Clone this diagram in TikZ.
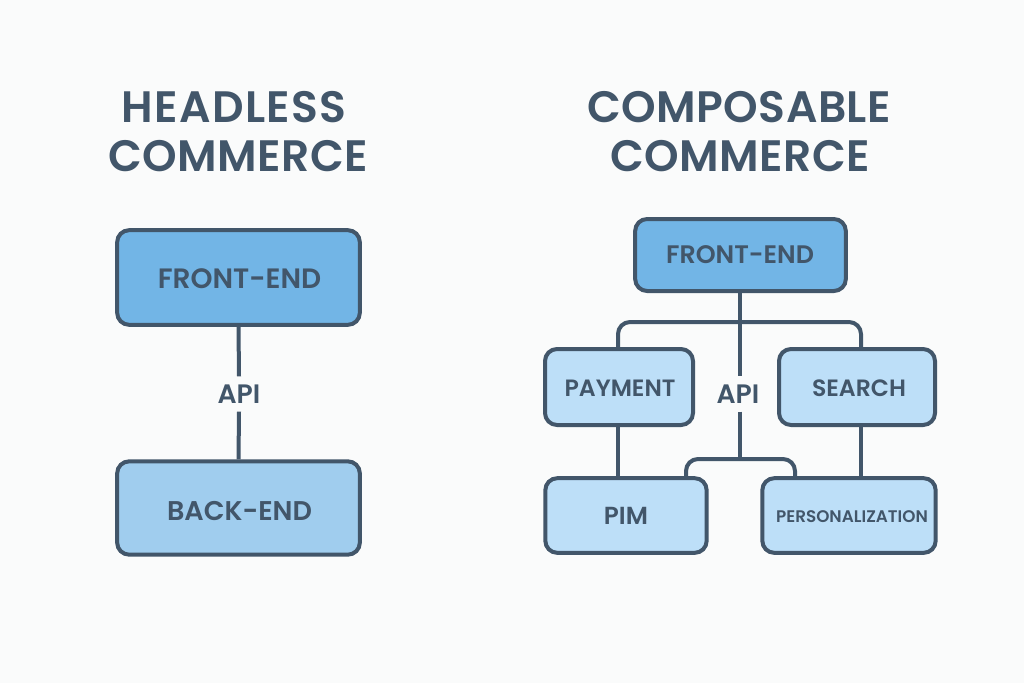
\documentclass[tikz,border=0pt]{standalone}
\usepackage{fontspec}
\setmainfont{Poppins}
\newfontfamily\titlefont[LetterSpace=1.1]{Poppins SemiBold}
\newfontfamily\titlefontw[LetterSpace=3.2]{Poppins SemiBold}
\newfontfamily\boxfontb{Poppins SemiBold}
\definecolor{ink}{HTML}{42566A}
\definecolor{paper}{HTML}{FAFBFB}
\definecolor{fillA}{HTML}{72B5E6}
\definecolor{fillB}{HTML}{A0CDEE}
\definecolor{fillC}{HTML}{BDDFF8}
\newcommand{\fs}[1]{\fontsize{#1}{#1}\selectfont}
\tikzset{
  x=0.75pt,y=-0.75pt,
  box/.style={draw=ink,line width=3pt,rounded corners=9pt,inner sep=0pt,anchor=center},
  boxtext/.style={text=ink,inner sep=0pt},
  heading/.style={text=ink,font=\titlefont\fs{33},inner sep=0pt,text height=23.5pt,text depth=0pt},
  apilabel/.style={fill=paper,text=ink,font=\boxfontb\fs{20},inner sep=0pt,minimum width=44pt,minimum height=26pt},
  link/.style={draw=ink,line width=3pt,rounded corners=9pt},
}
\begin{document}
\begin{tikzpicture}
\useasboundingbox (0,0) rectangle (1024,683);
\fill[paper] (0,0) rectangle (1024,683);

\node[heading,font=\titlefontw\fs{33}] (t1a) at (234,107) {HEADLESS};
\node[heading] (t1b) at (238,156) {COMMERCE};
\node[heading] (t2a) at (739,107) {COMPOSABLE};
\node[heading] (t2b) at (740,156) {COMMERCE};

\coordinate (busL) at (618,349);
\coordinate (busR) at (861,349);
\coordinate (lowL) at (618,425);
\coordinate (lowLb) at (618,478);
\coordinate (lowR) at (861,425);
\coordinate (lowRb) at (861,478);
\coordinate (jn) at (740,322);
\coordinate (jn2) at (740,459);
\coordinate (pimT) at (686,478);
\coordinate (perT) at (795,478);

\node[box,fill=fillA,minimum width=182pt,minimum height=71pt] (lf) at (238.5,277.5) {};
\node[box,fill=fillB,minimum width=182pt,minimum height=70pt] (lb) at (238.5,508) {};
\node[apilabel] (lapi) at (239,394) {API};
\draw[link] (lf.south) -- (lapi.north);
\draw[link] (lapi.south) -- (lb.north);

\node[box,fill=fillA,minimum width=158pt,minimum height=54pt] (rf) at (740.5,255) {};
\node[box,fill=fillC,minimum width=111pt,minimum height=57pt] (pay) at (619,387) {};
\node[box,fill=fillC,minimum width=117pt,minimum height=57pt] (sea) at (857,387) {};
\node[box,fill=fillC,minimum width=121pt,minimum height=56pt] (pim) at (626,515.5) {};
\node[box,fill=fillC,minimum width=130pt,minimum height=56pt] (per) at (849,515.5) {};
\node[apilabel] (rapi) at (738,394) {API};

\node[boxtext,font=\boxfontb\fs{21}] (lft) at (239.5,278.5) {FRONT-END};
\node[boxtext,font=\boxfontb\fs{20.3}] (lbt) at (239.5,511) {BACK-END};
\node[boxtext,font=\boxfontb\fs{19}] (rft) at (740,255) {FRONT-END};
\node[boxtext,font=\boxfontb\fs{17.7}] (payt) at (620,388) {PAYMENT};
\node[boxtext,font=\boxfontb\fs{17.7}] (seat) at (859,388) {SEARCH};
\node[boxtext,font=\boxfontb\fs{18.5}] (pimt) at (626,516) {PIM};
\node[boxtext,font=\boxfontb\fs{12.6}] (pert) at (852,517) {PERSONALIZATION};

\draw[link] (busL) -- (busL |- jn) -- (busR |- jn) -- (busR);
\draw[link] (rf.south -| jn) -- (jn |- rapi.north);
\draw[link] (jn |- rapi.south) -- (jn2);
\draw[link] (pimT) -- (pimT |- jn2) -- (perT |- jn2) -- (perT);
\draw[link] (lowL) -- (lowLb);
\draw[link] (lowR) -- (lowRb);
\end{tikzpicture}
\end{document}
